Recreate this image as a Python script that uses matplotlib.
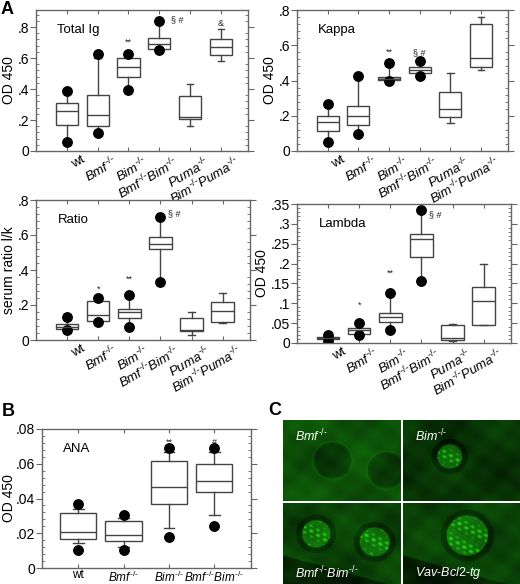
import numpy as np
import matplotlib
matplotlib.use("Agg")
import matplotlib.pyplot as plt
from matplotlib.transforms import ScaledTranslation
from matplotlib.ticker import MultipleLocator

plt.rcParams['font.family'] = ['Liberation Sans', 'DejaVu Sans']
plt.rcParams['mathtext.fontset'] = 'custom'
plt.rcParams['mathtext.rm'] = 'Liberation Sans'
plt.rcParams['mathtext.it'] = 'Liberation Sans:italic'

KO = r'^{\text{-/-}}'

# ---- data ----
groups_a = ['wt', r'$\mathit{Bmf}%s$' % KO, r'$\mathit{Bim}%s$' % KO,
            r'$\mathit{Bmf}%s\mathit{Bim}%s$' % (KO, KO),
            r'$\mathit{Puma}%s$' % KO,
            r'$\mathit{Bim}%s\mathit{Puma}%s$' % (KO, KO)]
groups_b = groups_a[:4]

totig_q1 = [0.17, 0.16, 0.477, 0.66, 0.204, 0.621]
totig_med = [0.256, 0.23, 0.54, 0.692, 0.219, 0.671]
totig_q3 = [0.31, 0.36, 0.60, 0.731, 0.355, 0.723]
totig_lo = [0.058, 0.116, 0.396, 0.654, 0.161, 0.578]
totig_hi = [0.387, 0.60, 0.628, 0.839, 0.434, 0.787]
totig_dots = [[0.058, 0.387], [0.116, 0.628], [0.396, 0.628], [0.654, 0.839], [], []]
totig_sig = ['', '', '**', '§ #', '', '&']
totig_sig_y = [0, 0, 0.70, 0.85, 0, 0.82]

kappa_q1 = [0.113, 0.148, 0.402, 0.445, 0.195, 0.475]
kappa_med = [0.165, 0.196, 0.41, 0.46, 0.24, 0.53]
kappa_q3 = [0.196, 0.254, 0.421, 0.475, 0.335, 0.72]
kappa_lo = [0.05, 0.094, 0.40, 0.425, 0.16, 0.46]
kappa_hi = [0.265, 0.423, 0.498, 0.51, 0.445, 0.76]
kappa_dots = [[0.05, 0.265], [0.094, 0.423], [0.40, 0.498], [0.425, 0.51], [], []]
kappa_sig = ['', '', '**', '§ #', '', '']
kappa_sig_y = [0, 0, 0.56, 0.56, 0, 0]

ratio_q1 = [0.063, 0.11, 0.128, 0.52, 0.053, 0.101]
ratio_med = [0.076, 0.143, 0.162, 0.547, 0.055, 0.168]
ratio_q3 = [0.09, 0.223, 0.175, 0.59, 0.124, 0.215]
ratio_lo = [0.057, 0.105, 0.076, 0.33, 0.029, 0.095]
ratio_hi = [0.133, 0.238, 0.257, 0.703, 0.158, 0.267]
ratio_dots = [[0.057, 0.133], [0.105, 0.238], [0.076, 0.257], [0.33, 0.703], [], []]
ratio_sig = ['', '*', '**', '§ #', '', '']
ratio_sig_y = [0, 0.29, 0.35, 0.72, 0, 0]

lambda_q1 = [0.011, 0.023, 0.054, 0.217, 0.0075, 0.046]
lambda_med = [0.0125, 0.032, 0.065, 0.262, 0.0126, 0.107]
lambda_q3 = [0.014, 0.038, 0.075, 0.274, 0.046, 0.14]
lambda_lo = [0.004, 0.019, 0.032, 0.155, 0.006, 0.046]
lambda_hi = [0.019, 0.05, 0.127, 0.334, 0.049, 0.2]
lambda_dots = [[0.004, 0.019], [0.019, 0.05], [0.032, 0.127], [0.155, 0.334], [], []]
lambda_sig = ['', '*', '**', '§ #', '', '']
lambda_sig_y = [0, 0.095, 0.175, 0.322, 0, 0]

ana_q1 = [0.0168, 0.0157, 0.0369, 0.044]
ana_med = [0.021, 0.0191, 0.0469, 0.05]
ana_q3 = [0.0316, 0.0268, 0.0618, 0.06]
ana_lo = [0.0144, 0.0119, 0.0233, 0.0306]
ana_hi = [0.034, 0.0287, 0.0666, 0.0666]
ana_dots = [[0.0105, 0.0367], [0.0105, 0.0306], [0.0176, 0.0693], [0.0239, 0.0693]]
ana_sig = ['', '', '**', '#']
ana_sig_y = [0, 0, 0.0725, 0.0725]

EDGE = '#444444'
SPINE = '#666666'

fig = plt.figure(figsize=(5.2, 5.84), dpi=100)


def px_axes(x0, y0, x1, y1):
    # pixel box (top-left origin) -> figure axes
    return fig.add_axes([x0 / 520, 1 - y1 / 584, (x1 - x0) / 520, (y1 - y0) / 584])


def box_panel(ax, labels, q1, med, q3, lo, hi, dots, sig, sig_y, ymax, ytop,
              major, minor, title, ylabel, width=0.72, xlim=(0.0, 6.88),
              rotate=True, sig_dx=None, fill=None):
    stats = []
    for i in range(len(q1)):
        stats.append(dict(q1=q1[i], med=med[i], q3=q3[i], whislo=lo[i],
                          whishi=hi[i], fliers=dots[i]))
    pos = np.arange(1, len(q1) + 1)
    parts = ax.bxp(stats, positions=pos, widths=width, showfliers=True,
                   capwidths=width * 0.3, patch_artist=True,
                   boxprops=dict(edgecolor=EDGE, facecolor='white', lw=1.0),
                   medianprops=dict(color=EDGE, lw=1.0),
                   whiskerprops=dict(color=EDGE, lw=1.0),
                   capprops=dict(color=EDGE, lw=1.0),
                   flierprops=dict(marker='o', markerfacecolor='black',
                                   markeredgecolor='black', markersize=6.8))
    if fill:
        for i, c in fill.items():
            parts['boxes'][i].set_facecolor(c)
    for i, s in enumerate(sig):
        if s:
            dx = 0 if sig_dx is None else sig_dx[i]
            ax.text(pos[i] + dx, sig_y[i], s, ha='center', va='center',
                    fontsize=6.5, color='#222222')
    ax.set_xlim(*xlim)
    ax.set_ylim(0, ytop)
    ax.yaxis.set_minor_locator(MultipleLocator(minor))
    ticks = np.arange(0, ymax + major / 2, major)
    ax.set_yticks(ticks)
    ax.set_yticklabels(['0'] + [('%g' % t).lstrip('0') for t in ticks[1:]])
    ax.set_xticks(pos)
    for sp in ax.spines.values():
        sp.set_color(SPINE)
        sp.set_linewidth(1.0)
    ax.tick_params(axis='y', which='major', direction='out', length=4,
                   color=SPINE, labelsize=10, pad=1, right=True)
    ax.tick_params(axis='y', which='minor', direction='in', length=2.5,
                   color=SPINE, right=True)
    ax.tick_params(axis='x', direction='in', length=3, color=SPINE, top=True,
                   labelsize=9.5, pad=2)
    if rotate:
        ax.set_xticklabels(labels, rotation=30, ha='right',
                           rotation_mode='anchor')
        off = ScaledTranslation(10 / 72, 0, fig.dpi_scale_trans)
        for lab in ax.get_xticklabels():
            lab.set_transform(lab.get_transform() + off)
    else:
        ax.set_xticklabels(labels)
        ax.tick_params(axis='x', labelsize=8.5, pad=1)
    ax.text(0.1, 0.9, title, transform=ax.transAxes, fontsize=9.5,
            va='top', ha='left')
    ax.set_ylabel(ylabel, fontsize=10, labelpad=1)


ax1 = px_axes(36, 10, 248, 151)
box_panel(ax1, groups_a, totig_q1, totig_med, totig_q3, totig_lo, totig_hi,
          totig_dots, totig_sig, totig_sig_y, 0.8, 0.91, 0.2, 0.04,
          'Total Ig', 'OD 450', sig_dx=[0, 0, 0, 0.6, 0, 0])

ax2 = px_axes(297, 10, 508, 151)
box_panel(ax2, groups_a, kappa_q1, kappa_med, kappa_q3, kappa_lo, kappa_hi,
          kappa_dots, kappa_sig, kappa_sig_y, 0.8, 0.8, 0.2, 0.04, 'Kappa',
          'OD 450', fill={2: '#b0b0b0'})

ax3 = px_axes(36, 200, 250, 340)
box_panel(ax3, groups_a, ratio_q1, ratio_med, ratio_q3, ratio_lo, ratio_hi,
          ratio_dots, ratio_sig, ratio_sig_y, 0.8, 0.8, 0.2, 0.04, 'Ratio',
          'serum ratio l/k', sig_dx=[0, 0, 0, 0.45, 0, 0])

ax4 = px_axes(297, 204, 511, 343)
box_panel(ax4, groups_a, lambda_q1, lambda_med, lambda_q3, lambda_lo,
          lambda_hi, lambda_dots, lambda_sig, lambda_sig_y, 0.35, 0.35, 0.05,
          0.01, 'Lambda', 'OD 450', sig_dx=[0, 0, 0, 0.45, 0, 0])

ax5 = px_axes(42, 429, 251, 568)
box_panel(ax5, groups_b, ana_q1, ana_med, ana_q3, ana_lo, ana_hi, ana_dots,
          ana_sig, ana_sig_y, 0.08, 0.08, 0.02, 0.004, 'ANA', 'OD 450',
          width=0.8, xlim=(0.2, 4.81), rotate=False)
ax5.yaxis.labelpad = 0

# panel letters
fig.text(0.002, 0.998, 'A', fontsize=13, fontweight='bold', va='top')
fig.text(0.004, 0.31, 'B', fontsize=13, fontweight='bold', va='top')
fig.text(0.515, 0.312, 'C', fontsize=13, fontweight='bold', va='top')

# ---- panel C: fluorescence micrographs (schematic) ----
tiles = [
    ((283, 420, 401, 501), r'$\mathit{Bmf}%s$' % KO, 'top',
     [(0.42, 0.5, 0.45, 'ring'), (0.88, 0.38, 0.45, 'ring')]),
    ((403, 420, 520, 501), r'$\mathit{Bim}%s$' % KO, 'top',
     [(0.4, 0.55, 0.3, 'bright')]),
    ((283, 503, 401, 584), r'$\mathit{Bmf}%s\mathit{Bim}%s$' % (KO, KO),
     'bottom', [(0.28, 0.62, 0.34, 'bright'), (0.78, 0.52, 0.36, 'bright')]),
    ((403, 503, 520, 584), r'$\mathit{Vav}$-$\mathit{Bcl2}$-$\mathit{tg}$',
     'bottom', [(0.55, 0.6, 0.5, 'bright')]),
]
yy, xx = np.mgrid[0:1:160j, 0:1:160j]
for k, (box, lab, where, glom) in enumerate(tiles):
    axc = px_axes(*box)
    base = (0.26 + 0.05 * np.sin(7 * xx + 2 * k) * np.cos(6 * yy + k)
            + 0.03 * np.sin(23 * xx + 3 * yy) * np.sin(19 * yy - 2 * xx))
    if k == 0:
        base = base + 0.06
    if k == 1:
        base = base - 0.06
    if k >= 2:
        base = base - 0.14 * ((yy + 0.4 * xx) < 0.35)
    for cx, cy, d, kind in glom:
        r = np.hypot((xx - cx) * 1.4, yy - cy)
        if kind == 'ring':
            base = base - 0.1 * (r < d / 2) + 0.03 * (np.abs(r - d / 2) < 0.025)
        else:
            speck = (np.sin(61 * xx + 9 * yy) * np.sin(53 * yy - 7 * xx)
                     * np.sin(37 * (xx + yy)))
            inside = r < d / 2
            base = base + inside * (0.18 + 0.45 * np.clip(speck, 0, 1))
            base = base - 0.08 * ((r > d / 2) & (r < d / 2 + 0.07))
    base = np.clip(base, 0.03, 1)
    img = np.zeros(base.shape + (3,))
    img[..., 1] = base
    img[..., 0] = base * 0.15
    img[..., 2] = base * 0.1
    axc.imshow(img, extent=(0, 1, 0, 1), origin='lower', aspect='auto',
               interpolation='bilinear')
    axc.set_xticks([])
    axc.set_yticks([])
    for sp in axc.spines.values():
        sp.set_visible(False)
    ty = 0.8 if where == 'top' else 0.14
    axc.text(0.1, ty, lab, transform=axc.transAxes, color='white',
             fontsize=9, va='center')

fig.savefig('out.png', dpi=100)
